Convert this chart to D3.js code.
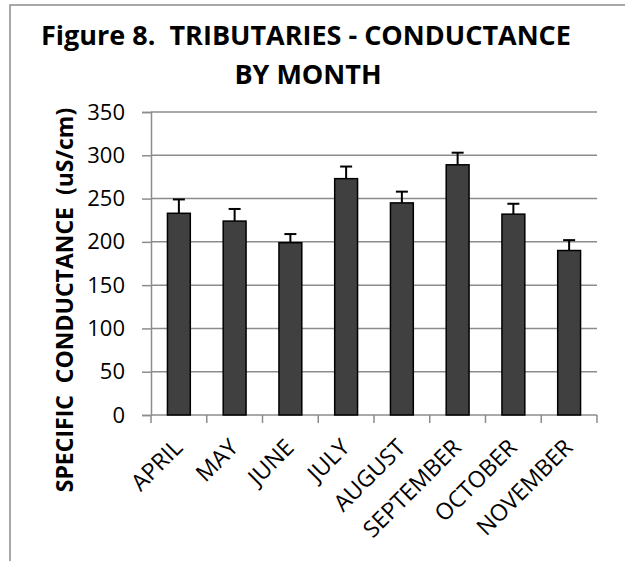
<!DOCTYPE html>
<html>
<head>
<meta charset="utf-8">
<script src="https://cdn.jsdelivr.net/npm/d3@7"></script>
<style>
    body { margin: 0; background: #fff; }
    text { font-family: "Open Sans", sans-serif; fill: #000; white-space: pre; }
</style>
</head>
<body>
<div id="chart"></div>
<script>
// chart data
let months = ["APRIL", "MAY", "JUNE", "JULY", "AUGUST", "SEPTEMBER", "OCTOBER", "NOVEMBER"];
let conductance = [233, 224, 199, 273, 245, 289, 232, 190];
let errors = [16, 14, 10, 14, 13, 14, 12, 12];
let yTicks = [0, 50, 100, 150, 200, 250, 300, 350];

let data = months.map((m, i) => ({ month: m, value: conductance[i], err: errors[i] }));

let width = 625, height = 561;
let margin = { top: 112, right: 28, bottom: 146, left: 151 };

let svg = d3.select("#chart").append("svg")
    .attr("width", width)
    .attr("height", height);

// outer chart frame
svg.append("rect")
    .attr("x", 10)
    .attr("y", 5)
    .attr("width", 800)
    .attr("height", 800)
    .attr("fill", "none")
    .attr("stroke", "#8c8c8c")
    .attr("stroke-width", 1.5);

// title
let title = svg.append("text")
    .attr("text-anchor", "middle")
    .attr("font-weight", "bold")
    .attr("font-size", 27);
title.append("tspan").attr("x", 306).attr("y", 45).text("Figure 8.  TRIBUTARIES - CONDUCTANCE");
title.append("tspan").attr("x", 308).attr("y", 84).text("BY MONTH");

// scales
let x = d3.scaleBand()
    .domain(months)
    .range([margin.left, width - margin.right])
    .paddingInner(0.59)
    .paddingOuter(0.295);

let y = d3.scaleLinear()
    .domain([0, 350])
    .range([height - margin.bottom, margin.top]);

// gridlines
svg.append("g")
    .selectAll("line")
    .data(yTicks.filter(d => d > 0))
    .enter().append("line")
    .attr("x1", margin.left)
    .attr("x2", width - margin.right)
    .attr("y1", d => y(d))
    .attr("y2", d => y(d))
    .attr("stroke", "#8c8c8c")
    .attr("stroke-width", 1.5);

// y axis
let yAxis = d3.axisLeft(y)
    .tickValues(yTicks)
    .tickSize(9)
    .tickPadding(17);

svg.append("g")
    .attr("class", "y-axis")
    .attr("transform", "translate(" + margin.left + ",0)")
    .call(yAxis)
    .call(g => g.select(".domain").attr("stroke", "#8c8c8c").attr("stroke-width", 1.5))
    .call(g => g.selectAll(".tick line").attr("stroke", "#8c8c8c").attr("stroke-width", 1.5))
    .call(g => g.selectAll(".tick text")
        .attr("font-family", "Open Sans")
        .attr("font-size", 22)
        .attr("fill", "#000"));

// x axis line with ticks at category boundaries
let xBase = y(0);
let step = x.step();
let boundaries = d3.range(months.length + 1).map(i => margin.left + i * step);

svg.append("line")
    .attr("x1", margin.left)
    .attr("x2", width - margin.right)
    .attr("y1", xBase)
    .attr("y2", xBase)
    .attr("stroke", "#8c8c8c")
    .attr("stroke-width", 1.5);

svg.append("g")
    .selectAll("line")
    .data(boundaries)
    .enter().append("line")
    .attr("x1", d => d)
    .attr("x2", d => d)
    .attr("y1", xBase)
    .attr("y2", xBase + 8)
    .attr("stroke", "#8c8c8c")
    .attr("stroke-width", 1.5);

// month labels
svg.append("g")
    .selectAll("text")
    .data(months)
    .enter().append("text")
    .attr("text-anchor", "end")
    .attr("font-size", 23)
    .attr("transform", d => "translate(" + (x(d) + x.bandwidth() / 2 + 5) + "," + (xBase + 34) + ") rotate(-45)")
    .text(d => d);

// y axis title
svg.append("text")
    .attr("text-anchor", "middle")
    .attr("font-weight", "bold")
    .attr("font-size", 23)
    .attr("transform", "translate(73,300) rotate(-90)")
    .text("SPECIFIC  CONDUCTANCE  (uS/cm)");

// error bars
let errG = svg.append("g");
errG.selectAll(".err")
    .data(data)
    .enter().append("line")
    .attr("x1", d => x(d.month) + x.bandwidth() / 2)
    .attr("x2", d => x(d.month) + x.bandwidth() / 2)
    .attr("y1", d => y(d.value))
    .attr("y2", d => y(d.value + d.err))
    .attr("stroke", "#000")
    .attr("stroke-width", 2);

errG.selectAll(".cap")
    .data(data)
    .enter().append("line")
    .attr("x1", d => x(d.month) + x.bandwidth() / 2 - 6)
    .attr("x2", d => x(d.month) + x.bandwidth() / 2 + 6)
    .attr("y1", d => y(d.value + d.err))
    .attr("y2", d => y(d.value + d.err))
    .attr("stroke", "#000")
    .attr("stroke-width", 2);

// bars
svg.append("g")
    .selectAll("rect")
    .data(data)
    .enter().append("rect")
    .attr("x", d => x(d.month))
    .attr("y", d => y(d.value))
    .attr("width", x.bandwidth())
    .attr("height", d => y(0) - y(d.value))
    .attr("fill", "#404040")
    .attr("stroke", "#000")
    .attr("stroke-width", 1.5);
</script>
</body>
</html>
